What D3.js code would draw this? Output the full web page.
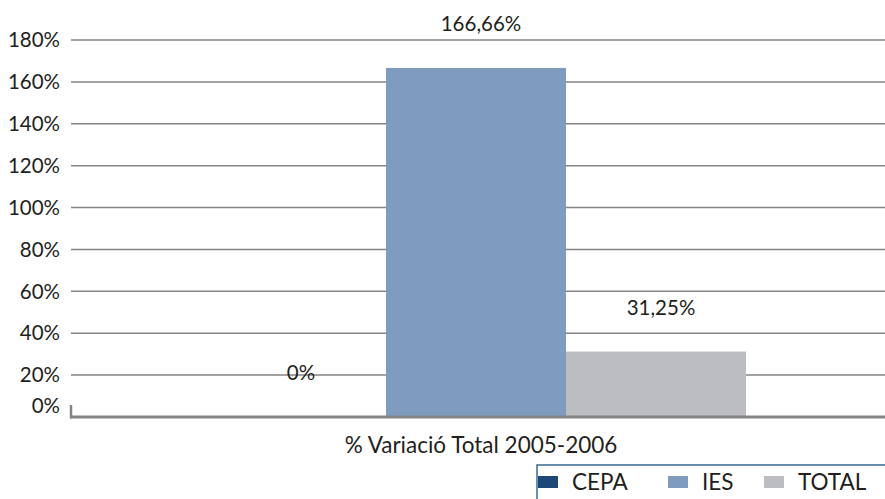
<!DOCTYPE html>
<html>
<head>
<meta charset="utf-8">
<script src="https://cdn.jsdelivr.net/npm/d3@7"></script>
<style>
  body { margin: 0; background: #fff; }
  text { font-family: Lato, "Open Sans", sans-serif; fill: #231f20; }
</style>
</head>
<body>
<script>
// dades del grafic
var categories = ["% Variació Total 2005-2006"];
var series = ["CEPA", "IES", "TOTAL"];
var values = [0, 166.66, 31.25];
var valueLabels = ["0%", "166,66%", "31,25%"];
var yTicks = [0, 20, 40, 60, 80, 100, 120, 140, 160, 180];
var colors = ["#1d4778", "#7f9bc0", "#bcbdc1"];

var width = 885, height = 499;

var svg = d3.select("body").append("svg")
    .attr("width", width).attr("height", height);

var y = d3.scaleLinear().domain([0, 180]).range([417, 40]);

var x0 = d3.scaleBand().domain(categories).range([71, 881])
    .paddingInner(0).paddingOuter(0.25);
var x1 = d3.scaleBand().domain(series).range([0, x0.bandwidth()]);

// linies de la graella
svg.append("g").selectAll("line").data(yTicks.slice(1)).enter().append("line")
    .attr("x1", 71).attr("x2", width)
    .attr("y1", function (d) { return y(d); })
    .attr("y2", function (d) { return y(d); })
    .attr("stroke", "#858585").attr("stroke-width", 1.5);

// etiquetes eix y
svg.append("g").selectAll("text").data(yTicks).enter().append("text")
    .attr("x", 60)
    .attr("y", function (d) { return d === 0 ? y(d) - 11 : y(d); })
    .attr("dy", "0.35em")
    .attr("text-anchor", "end")
    .style("font-size", "20.5px")
    .text(function (d) { return d + "%"; });

// barres
var g = svg.append("g").selectAll("g").data(categories).enter().append("g")
    .attr("transform", function (c) { return "translate(" + x0(c) + ",0)"; });

g.selectAll("rect").data(values).enter().append("rect")
    .attr("x", function (d, i) { return x1(series[i]); })
    .attr("y", function (d) { return y(d); })
    .attr("width", x1.bandwidth())
    .attr("height", function (d) { return y(0) - y(d); })
    .attr("fill", function (d, i) { return colors[i]; });

g.selectAll("text.val").data(values).enter().append("text")
    .attr("class", "val")
    .attr("x", function (d, i) { return x1(series[i]) + x1.bandwidth() / 2 + 5; })
    .attr("y", function (d) { return y(d) - 37; })
    .attr("text-anchor", "middle")
    .style("font-size", "20.5px")
    .text(function (d, i) { return valueLabels[i]; });

// eix de base
svg.append("line")
    .attr("x1", 70).attr("x2", width)
    .attr("y1", y(0)).attr("y2", y(0))
    .attr("stroke", "#858585").attr("stroke-width", 3);
svg.append("line")
    .attr("x1", 71).attr("x2", 71)
    .attr("y1", y(0) - 12).attr("y2", y(0) + 1.5)
    .attr("stroke", "#858585").attr("stroke-width", 2.5);

// etiqueta categoria
svg.append("g").selectAll("text").data(categories).enter().append("text")
    .attr("x", function (c) { return x0(c) + x0.bandwidth() / 2 + 5; })
    .attr("y", 453)
    .attr("text-anchor", "middle")
    .style("font-size", "22.5px")
    .text(function (c) { return c; });

// llegenda
var legend = svg.append("g");
legend.append("rect")
    .attr("x", 537).attr("y", 465).attr("width", 400).attr("height", 60)
    .attr("fill", "#fff").attr("stroke", "#3d6a94").attr("stroke-width", 1.5);
var legendX = [538, 668, 764];
var item = legend.selectAll("g").data(series).enter().append("g")
    .attr("transform", function (d, i) { return "translate(" + legendX[i] + ",476)"; });
item.append("rect")
    .attr("width", 20).attr("height", 12)
    .attr("fill", function (d, i) { return colors[i]; });
item.append("text")
    .attr("x", 34).attr("y", 6).attr("dy", "0.35em")
    .style("font-size", "22.5px")
    .text(function (d) { return d; });
</script>
</body>
</html>
